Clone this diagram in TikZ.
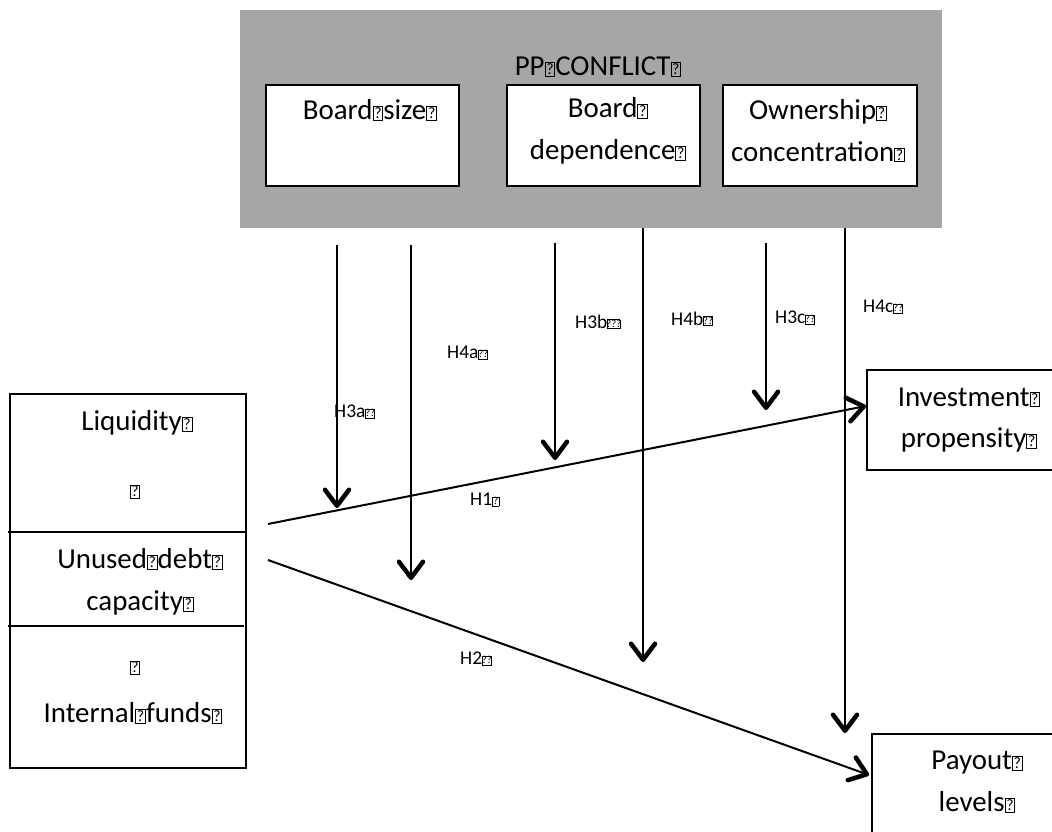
\documentclass[tikz,border=0pt]{standalone}
\usepackage{fontspec}
\setmainfont{Carlito}
\usetikzlibrary{arrows.meta}
\newcommand\qb{{\setlength\fboxsep{0pt}\setlength\fboxrule{0.035em}\fbox{\makebox[0.3em][c]{\rule{0pt}{0.44em}\raisebox{0.05em}{\scalebox{0.55}{?}}}}}}
\newcommand\qbb{{\setlength\fboxsep{0pt}\setlength\fboxrule{0.035em}\fbox{\makebox[0.42em][c]{\rule{0pt}{0.44em}\raisebox{0.05em}{\scalebox{0.55}{??}}}}}}
\newcommand\qbbb{{\setlength\fboxsep{0pt}\setlength\fboxrule{0.035em}\fbox{\makebox[0.6em][c]{\rule{0pt}{0.44em}\raisebox{0.05em}{\scalebox{0.55}{???}}}}}}
\definecolor{panelgray}{HTML}{A6A6A6}
\tikzset{
  box/.style={draw=black, line width=2.2bp, fill=white, inner sep=0pt, outer sep=0pt, anchor=north west},
  big/.style={font=\fontsize{29}{42}\selectfont, align=center, inner sep=0pt},
  hl/.style={font=\fontsize{19.5}{23}\selectfont, inner sep=0pt, anchor=west},
  conn/.style={line width=2bp, -{Straight Barb[length=16bp,width=24bp,line width=4.5bp,round]}},
  plain/.style={line width=2bp},
}
\begin{document}
\begin{tikzpicture}[x=1bp,y=-1bp]
\useasboundingbox (0,0) rectangle (1052,832);
% top panel
\node[fill=panelgray, inner sep=0pt, outer sep=0pt, anchor=north west, minimum width=702bp, minimum height=218bp] (pp) at (240,10) {};
\node[big] (pptext) at (598,67) {PP\qb CONFLICT\qb};
\node[box, minimum width=193bp, minimum height=101bp] (bsize) at (266,85) {};
\node[box, minimum width=193bp, minimum height=101bp] (bdep) at (507,85) {};
\node[box, minimum width=194bp, minimum height=101bp] (own) at (723,85) {};
\node[big] (bsizet) at (370,110) {Board\qb size\qb};
\node[big] (bdept) at (608,131) {Board\qb\\dependence\qb};
\node[big] (ownt) at (818,131) {Ownership\qb\\concentration\qb};
% left box
\node[box, minimum width=236bp, minimum height=374bp] (left) at (10,394) {};
\draw[plain] (8,532) -- (246,532);
\draw[plain] (8,626) -- (244,626);
\node[big] (liq) at (137,423) {Liquidity\qb};
\node[big] (q1) at (135,492) {\qb};
\node[big] (unused) at (140,582) {Unused\qb debt\qb\\capacity\qb};
\node[big] (q2) at (135,668) {\qb};
\node[big] (intf) at (133,713) {Internal\qb funds\qb};
% right boxes
\node[box, minimum width=200bp, minimum height=100bp] (inv) at (867,370) {};
\node[big] (invt) at (969,420) {Investment\qb\\propensity\qb};
\node[box, minimum width=200bp, minimum height=110bp] (pay) at (872,734) {};
\node[big] (payt) at (977,782) {Payout\qb\\levels\qb};
% coordinates
\coordinate (s1) at (337,245); \coordinate (e1) at (337,508);
\coordinate (s2) at (411,245); \coordinate (e2) at (411,580);
\coordinate (s3) at (555,243); \coordinate (e3) at (555,460);
\coordinate (s4) at (643,228); \coordinate (e4) at (643,662);
\coordinate (s5) at (766,243); \coordinate (e5) at (766,410);
\coordinate (s6) at (845,228); \coordinate (e6) at (845,733);
\coordinate (h1s) at (268,524); \coordinate (h1e) at (866,406);
\coordinate (h2s) at (268,560); \coordinate (h2e) at (869,775);
% connectors
\draw[conn] (h1s) -- (h1e);
\draw[conn] (h2s) -- (h2e);
\draw[conn] (s1) -- (e1);
\draw[conn] (s2) -- (e2);
\draw[conn] (s3) -- (e3);
\draw[conn] (s4) -- (e4);
\draw[conn] (s5) -- (e5);
\draw[conn] (s6) -- (e6);
% labels
\node[hl] (l3a) at (334,412) {H3a\qbb};
\node[hl] (l4a) at (447,353) {H4a\qbb};
\node[hl] (l3b) at (575,322) {H3b\qbbb};
\node[hl] (l4b) at (671,319) {H4b\qbb};
\node[hl] (l3c) at (775,318) {H3c\qbb};
\node[hl] (l4c) at (863,307) {H4c\qbb};
\node[hl] (l1) at (470,500) {H1\qb};
\node[hl] (l2) at (460,659) {H2\qbb};
\end{tikzpicture}
\end{document}
